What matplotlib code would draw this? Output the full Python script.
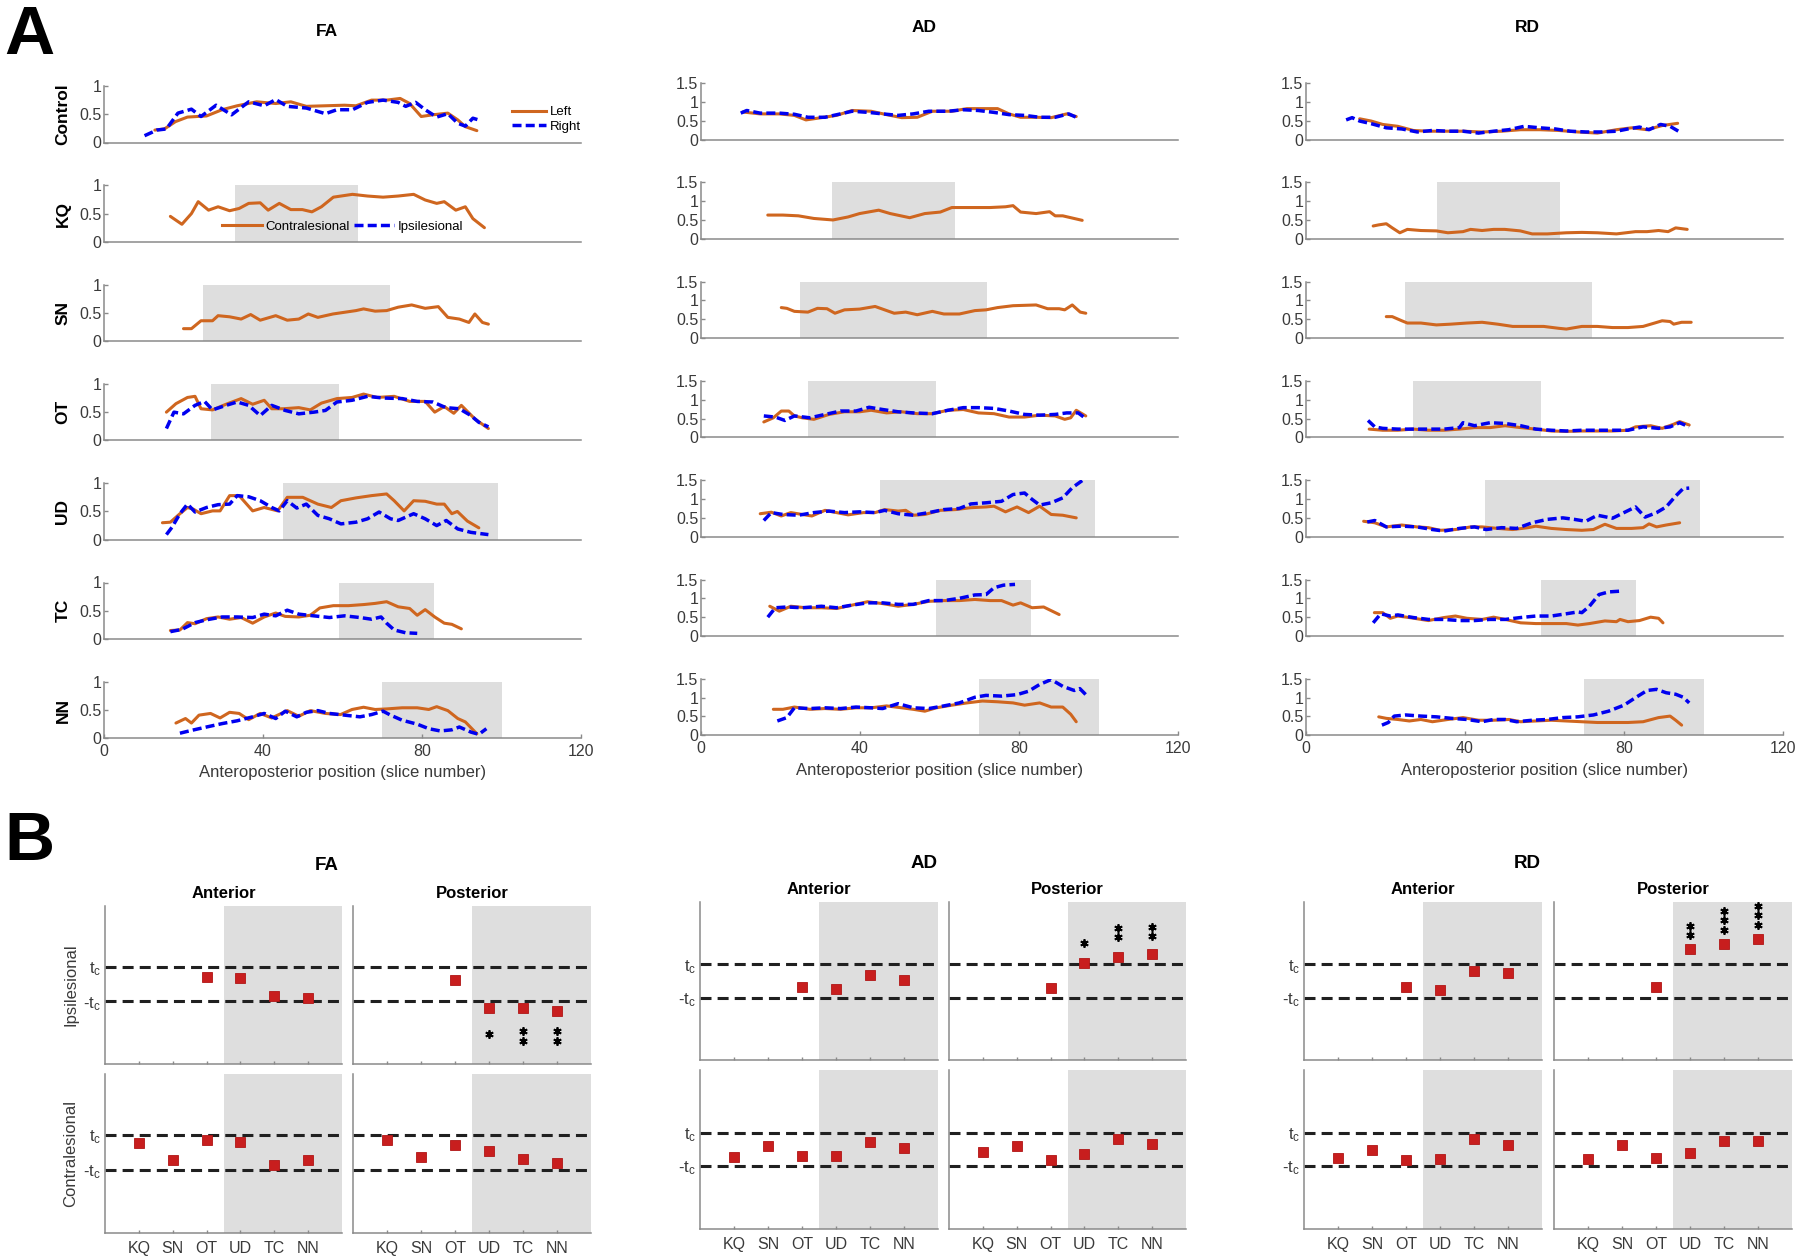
import numpy as np
import matplotlib
matplotlib.use('Agg')
import matplotlib.pyplot as plt
from matplotlib.lines import Line2D

plt.rcParams['font.family'] = ['Liberation Sans', 'DejaVu Sans']
plt.rcParams['mathtext.default'] = 'regular'

# ---------------- DATA: panel A profiles (slice, value) ----------------
ROWS = ['Control', 'KQ', 'SN', 'OT', 'UD', 'TC', 'NN']
METRICS = ['FA', 'AD', 'RD']
SHADE_START = [None, 33, 25, 27, 45, 59, 70]
SHADE_END = [None, 64, 72, 59, 99, 83, 100]

FA_CONTROL_LEFT = [(12.8,0.22),(15.2,0.24),(18,0.37),(21,0.45),(25.8,0.47),(29.7,0.58),(33.5,0.65),(38.4,0.72),(43.2,0.69),(47,0.72),(50.9,0.64),(55.7,0.65),(60.5,0.66),(63.4,0.65),(67.3,0.75),(71.1,0.75),(74.5,0.78),(76.9,0.69),(79.8,0.46),(82.7,0.49),(86.5,0.52),(89,0.4),(90.9,0.28),(93.8,0.21)]
FA_CONTROL_RIGHT = [(10.2,0.12),(13.3,0.22),(15.7,0.24),(18.6,0.52),(22,0.59),(24.4,0.46),(28.2,0.66),(32.1,0.49),(36.4,0.72),(40.3,0.65),(43.2,0.76),(46.1,0.64),(50.9,0.61),(55.7,0.51),(58.6,0.58),(62.5,0.58),(66.3,0.71),(70.2,0.75),(74,0.71),(75.9,0.64),(78.4,0.71),(80.8,0.58),(83.7,0.45),(86.5,0.51),(89,0.34),(90.9,0.29),(92.8,0.43),(94.7,0.39)]
FA_KQ_CONTRA = [(16.7,0.45),(19.6,0.31),(22,0.5),(23.7,0.71),(26.3,0.56),(28.7,0.62),(31.6,0.55),(34,0.59),(36.4,0.68),(39.3,0.69),(41.3,0.56),(44.1,0.68),(47,0.57),(49.9,0.57),(52.3,0.53),(54.7,0.62),(57.7,0.79),(62.5,0.84),(66.3,0.81),(70.2,0.79),(74,0.81),(77.9,0.84),(80.8,0.74),(83.7,0.68),(85.6,0.71),(88.5,0.56),(90.9,0.62),(92.8,0.41),(95.7,0.25)]
FA_SN_CONTRA = [(20,0.22),(22,0.22),(24.4,0.36),(27.3,0.36),(28.7,0.45),(31.6,0.43),(34.5,0.39),(36.9,0.47),(39.3,0.37),(43.2,0.45),(46.1,0.37),(49,0.39),(51.4,0.48),(53.8,0.42),(57.6,0.48),(60.5,0.51),(63.4,0.54),(65.3,0.57),(68.2,0.53),(71.1,0.54),(74,0.6),(77.4,0.64),(80.8,0.58),(84.1,0.61),(86.5,0.42),(89.4,0.39),(91.8,0.33),(93.3,0.48),(95.2,0.33),(96.7,0.3)]
FA_OT_CONTRA = [(15.7,0.5),(18.1,0.65),(21,0.76),(22.9,0.78),(24.4,0.56),(27.3,0.54),(30.7,0.64),(34.5,0.74),(37.4,0.64),(40.3,0.71),(42.2,0.56),(45.1,0.56),(49,0.58),(51.9,0.54),(54.7,0.66),(58.6,0.74),(62.4,0.76),(65.3,0.82),(68.7,0.76),(73,0.78),(76.9,0.69),(80.8,0.69),(83.2,0.5),(85.6,0.6),(88,0.48),(89.9,0.62),(93.3,0.38),(96.7,0.21)]
FA_OT_IPSI = [(15.7,0.21),(17.6,0.5),(20,0.47),(22.9,0.62),(25.3,0.69),(27.3,0.54),(30.7,0.62),(33.5,0.68),(36.4,0.62),(39.3,0.44),(42.2,0.62),(45.6,0.53),(49,0.47),(52.8,0.5),(55.7,0.53),(58.6,0.68),(62.4,0.71),(66.3,0.78),(70.2,0.75),(75,0.74),(78.8,0.69),(82.7,0.68),(86,0.58),(89.4,0.56),(92.3,0.44),(94.3,0.32),(96.7,0.24)]
FA_UD_CONTRA = [(14.7,0.3),(16.7,0.31),(19.1,0.46),(21,0.57),(22.5,0.54),(24.4,0.46),(27.3,0.51),(29.2,0.51),(31.6,0.78),(34,0.78),(37.4,0.51),(40.3,0.57),(43.7,0.51),(46.1,0.75),(50,0.75),(53.8,0.63),(57.2,0.57),(59.6,0.69),(63.4,0.74),(67.3,0.78),(71.1,0.81),(73,0.69),(75.5,0.51),(77.9,0.69),(80.8,0.68),(83.7,0.63),(85.6,0.63),(87.5,0.46),(88.9,0.5),(91.4,0.33),(94.3,0.21)]
FA_UD_IPSI = [(15.7,0.09),(17.1,0.22),(19.1,0.46),(21,0.63),(22.9,0.49),(25.8,0.57),(28.7,0.62),(31.6,0.63),(33.5,0.78),(36.4,0.76),(39.3,0.69),(42.2,0.57),(44.1,0.51),(46.1,0.69),(48.5,0.56),(50.9,0.63),(53.8,0.43),(56.7,0.37),(59.6,0.28),(63.4,0.31),(66.3,0.37),(69.2,0.49),(72.1,0.37),(74,0.34),(77.9,0.46),(80.8,0.37),(83.7,0.25),(86.1,0.34),(89,0.19),(92.3,0.13),(96.7,0.09)]
FA_TC_CONTRA = [(16.7,0.15),(19.1,0.16),(21,0.29),(22.9,0.27),(25.8,0.36),(28.7,0.39),(31.6,0.35),(34.5,0.38),(37.4,0.28),(40.3,0.39),(43.2,0.46),(45.6,0.4),(49,0.39),(51.9,0.42),(54.3,0.55),(57.7,0.59),(61.5,0.59),(65.4,0.61),(68.2,0.63),(71.1,0.66),(74,0.57),(76.9,0.54),(78.8,0.42),(80.8,0.52),(83.2,0.39),(85.6,0.28),(87.5,0.26),(89.9,0.18)]
FA_TC_IPSI = [(16.7,0.13),(19.6,0.17),(22.9,0.29),(25.8,0.34),(29.7,0.39),(33.5,0.39),(37.4,0.38),(40.3,0.44),(43.2,0.41),(46.1,0.51),(49,0.44),(52.8,0.41),(56.7,0.38),(60.5,0.41),(64.4,0.38),(67.3,0.35),(69.7,0.39),(71.1,0.28),(73,0.16),(75.9,0.11),(78.8,0.1)]
FA_NN_CONTRA = [(18.1,0.27),(20.5,0.35),(22,0.27),(23.9,0.41),(26.8,0.44),(29.2,0.36),(31.6,0.46),(34,0.44),(36.4,0.33),(39.3,0.44),(42.2,0.36),(46.1,0.49),(49,0.39),(51.9,0.49),(55.7,0.44),(59.5,0.42),(62.4,0.51),(65.3,0.55),(68.2,0.51),(71.1,0.52),(75,0.54),(78.8,0.54),(81.7,0.51),(83.7,0.56),(86.5,0.49),(89,0.35),(90.9,0.29),(93.8,0.08)]
FA_NN_IPSI = [(19.1,0.09),(22,0.14),(25.8,0.2),(29.7,0.26),(33.5,0.31),(37.4,0.38),(40.3,0.44),(43.2,0.35),(45.6,0.48),(48.5,0.38),(50.9,0.46),(53.8,0.49),(56.7,0.44),(60.5,0.41),(64.4,0.38),(67.3,0.42),(70.2,0.48),(72.1,0.41),(75,0.32),(78.8,0.25),(81.7,0.17),(84.6,0.13),(87.5,0.15),(89.4,0.2),(92.3,0.11),(94.3,0.07),(96.2,0.17)]

AD_CONTROL_LEFT = [(10.5,0.73),(14.9,0.68),(19.7,0.68),(23.5,0.64),(26.4,0.52),(30.3,0.58),(34.1,0.64),(38,0.77),(42.8,0.75),(46.7,0.66),(50.5,0.58),(54.4,0.59),(58.2,0.75),(63.1,0.75),(66.9,0.82),(70.8,0.82),(74.6,0.82),(77.5,0.68),(80.4,0.59),(84.3,0.59),(88.1,0.58),(92,0.68),(94.4,0.61)]
AD_CONTROL_RIGHT = [(10,0.7),(11.5,0.77),(14.9,0.7),(19.7,0.7),(23.5,0.67),(26.9,0.59),(31.2,0.59),(35.1,0.68),(38,0.75),(42.1,0.72),(45.7,0.68),(49.6,0.64),(53.4,0.68),(57.3,0.75),(62.1,0.75),(66,0.79),(69.8,0.77),(73.7,0.72),(77.5,0.66),(81.4,0.64),(85.2,0.59),(89.1,0.59),(92.5,0.68),(94.4,0.59)]
AD_KQ_CONTRA = [(16.8,0.63),(20.6,0.63),(24.5,0.61),(28.4,0.54),(33.2,0.5),(37,0.58),(39.9,0.67),(44.7,0.76),(47.6,0.67),(52.5,0.56),(56.3,0.67),(60.2,0.71),(63.1,0.83),(67.9,0.83),(72.7,0.83),(76.6,0.85),(78.5,0.88),(80.4,0.71),(84.3,0.67),(87.7,0.72),(89.1,0.61),(91,0.61),(95.9,0.49)]
AD_SN_CONTRA = [(20.2,0.81),(21.6,0.79),(23.5,0.71),(26.9,0.69),(29.3,0.79),(31.7,0.78),(33.7,0.66),(36.1,0.75),(39.9,0.77),(43.8,0.84),(48.6,0.66),(51.5,0.69),(54.4,0.62),(58.2,0.71),(61.1,0.64),(65,0.64),(68.9,0.73),(71.7,0.75),(74.6,0.81),(78.5,0.86),(84.3,0.88),(87.2,0.78),(90.1,0.78),(91.5,0.75),(93.4,0.88),(95.4,0.69),(96.8,0.66)]
AD_OT_CONTRA = [(15.8,0.41),(18.2,0.52),(20.2,0.7),(22.1,0.7),(23.5,0.57),(25.5,0.52),(28.4,0.48),(32.2,0.61),(36.1,0.68),(39.9,0.68),(42.8,0.72),(46.7,0.65),(50.5,0.68),(54.4,0.63),(58.2,0.63),(62.1,0.72),(66,0.74),(69.8,0.65),(73.7,0.63),(77.5,0.54),(81.4,0.54),(85.2,0.59),(89.1,0.57),(91.5,0.48),(93,0.52),(94.4,0.72),(96.8,0.57)]
AD_OT_IPSI = [(15.8,0.57),(18.7,0.54),(21.1,0.45),(23.5,0.57),(27.4,0.52),(31.2,0.61),(35.1,0.7),(39,0.7),(42.3,0.8),(45.7,0.74),(49.6,0.68),(53.4,0.65),(58.2,0.63),(62.1,0.72),(66,0.79),(69.8,0.79),(73.7,0.77),(77.5,0.7),(81.4,0.61),(85.2,0.59),(89.1,0.61),(92,0.65),(94.9,0.65),(96.8,0.5)]
AD_UD_CONTRA = [(14.9,0.61),(17.7,0.65),(20.2,0.55),(22.6,0.64),(25.5,0.59),(27.9,0.55),(31.2,0.7),(34.1,0.64),(37,0.58),(40.9,0.64),(43.8,0.64),(46.2,0.72),(49.6,0.68),(51.5,0.7),(53.4,0.57),(56.3,0.59),(60.2,0.7),(64,0.72),(67.9,0.77),(71.7,0.79),(73.7,0.81),(76.6,0.66),(79.5,0.79),(82.4,0.64),(85.2,0.81),(88.1,0.59),(91,0.57),(94.4,0.5)]
AD_UD_IPSI = [(15.8,0.43),(17.7,0.64),(20.6,0.59),(24.5,0.57),(28.4,0.64),(32.2,0.68),(36.1,0.64),(39.9,0.66),(43.8,0.64),(46.2,0.7),(49.6,0.61),(53.4,0.57),(57.3,0.64),(61.1,0.72),(65,0.75),(67.9,0.87),(71.7,0.9),(75.6,0.94),(78.5,1.12),(81.4,1.16),(83.3,0.99),(85.2,0.84),(88.1,0.9),(91,1.03),(93.4,1.3),(95.9,1.49)]
AD_TC_CONTRA = [(17.3,0.79),(19.7,0.66),(22.6,0.79),(26.4,0.75),(30.3,0.75),(34.1,0.73),(38,0.82),(41.9,0.91),(45.7,0.86),(49.6,0.79),(53.4,0.84),(57.3,0.92),(61.1,0.94),(65,0.94),(68.9,0.97),(72.7,0.94),(75.6,0.94),(78.5,0.82),(80.4,0.88),(83.3,0.75),(86.2,0.77),(90.1,0.57)]
AD_TC_IPSI = [(16.8,0.5),(18.7,0.75),(21.6,0.77),(25.5,0.75),(30.3,0.79),(34.1,0.75),(38,0.82),(41.9,0.88),(45.7,0.88),(49.6,0.84),(53.4,0.84),(57.3,0.94),(61.1,0.94),(65,1.0),(68.9,1.09),(71.7,1.1),(73.7,1.28),(76.1,1.35),(79,1.37)]
AD_NN_CONTRA = [(18.2,0.69),(20.6,0.69),(23.5,0.75),(27.4,0.69),(31.2,0.71),(35.1,0.69),(39,0.73),(42.8,0.73),(46.7,0.78),(50.5,0.73),(53.4,0.69),(56.3,0.64),(59.2,0.73),(63.1,0.8),(66.9,0.86),(70.8,0.91),(74.6,0.89),(78.5,0.86),(81.4,0.8),(85.2,0.86),(88.1,0.75),(91,0.75),(93,0.56),(94.4,0.36)]
AD_NN_IPSI = [(19.2,0.38),(21.6,0.47),(23.5,0.73),(27.4,0.71),(31.2,0.73),(35.1,0.71),(39,0.75),(42.8,0.73),(45.7,0.71),(49.6,0.84),(53.4,0.73),(57.3,0.71),(61.1,0.78),(65,0.86),(68.9,1.01),(71.7,1.06),(75.6,1.04),(79.5,1.08),(82.4,1.17),(85.2,1.35),(88.1,1.48),(91,1.3),(93.9,1.19),(95.3,1.24),(96.8,1.08)]

RD_CONTROL_LEFT = [(13.5,0.55),(16.4,0.49),(19.3,0.4),(23.1,0.35),(27,0.24),(30.7,0.22),(34.7,0.22),(39.5,0.22),(44.3,0.2),(49.2,0.22),(54,0.26),(58.8,0.26),(63.6,0.24),(68.4,0.2),(73.3,0.17),(78.1,0.26),(81.9,0.31),(85.8,0.26),(89.6,0.37),(93.5,0.43)]
RD_CONTROL_RIGHT = [(10.1,0.52),(11.6,0.58),(13.5,0.49),(16.4,0.42),(20.2,0.31),(24.1,0.28),(28,0.2),(31.8,0.24),(35.7,0.22),(39.5,0.22),(43.4,0.17),(47.2,0.22),(51,0.26),(54.9,0.35),(58.8,0.31),(62.7,0.28),(66.5,0.22),(70.4,0.2),(74.2,0.2),(78.1,0.22),(81,0.28),(83.9,0.33),(86.3,0.26),(89.2,0.4),(91.6,0.35),(94.5,0.17)]
RD_KQ_CONTRA = [(16.9,0.34),(18.3,0.37),(20.2,0.4),(21.7,0.29),(23.6,0.16),(25.5,0.25),(28.9,0.22),(32.8,0.21),(35.7,0.16),(39.5,0.19),(41.4,0.25),(44.3,0.22),(47.2,0.25),(50,0.25),(53.9,0.21),(56.9,0.13),(60.7,0.13),(65.5,0.16),(69.4,0.17),(73.3,0.16),(78.1,0.13),(82.9,0.19),(85.8,0.19),(88.7,0.22),(91.1,0.19),(93,0.29),(95.9,0.25)]
RD_SN_CONTRA = [(20.2,0.57),(21.7,0.57),(24.1,0.46),(25.5,0.4),(28.9,0.4),(32.8,0.35),(36.4,0.37),(40.5,0.4),(44.3,0.42),(48.2,0.37),(52,0.31),(55.9,0.31),(59.8,0.31),(63.6,0.26),(65.5,0.24),(69.4,0.31),(73.3,0.31),(77.1,0.28),(81,0.28),(84.8,0.31),(87.7,0.4),(89.6,0.46),(91.6,0.44),(92.5,0.37),(94.5,0.42),(96.9,0.42)]
RD_OT_CONTRA = [(15.9,0.22),(19.3,0.19),(23.1,0.19),(27,0.22),(30.8,0.19),(34.7,0.19),(38.6,0.22),(42.4,0.26),(46.3,0.26),(50.1,0.31),(54,0.26),(57.8,0.22),(61.7,0.17),(65.5,0.16),(69.4,0.17),(73.3,0.17),(77.1,0.17),(81,0.19),(82.9,0.28),(86.7,0.31),(89.6,0.24),(92.5,0.35),(94,0.42),(96.4,0.33)]
RD_OT_IPSI = [(15.6,0.45),(17.3,0.28),(19.3,0.24),(23.1,0.22),(27,0.22),(30.8,0.22),(34.7,0.22),(38.6,0.26),(39.5,0.39),(42.4,0.31),(46.3,0.39),(50.1,0.37),(54,0.31),(57.8,0.22),(61.7,0.19),(65.5,0.17),(69.4,0.19),(73.3,0.19),(77.1,0.19),(81,0.19),(84.8,0.28),(88.7,0.24),(91.6,0.28),(94,0.39),(96.4,0.28)]
RD_UD_CONTRA = [(14.5,0.41),(17.3,0.37),(20.2,0.26),(24.1,0.31),(27.9,0.26),(30.8,0.24),(33.7,0.17),(37.6,0.19),(41.4,0.26),(44.3,0.26),(48.2,0.22),(52,0.19),(55.9,0.24),(57.8,0.28),(61.7,0.22),(65.5,0.19),(69.4,0.17),(72.3,0.19),(75.2,0.33),(78.1,0.22),(81.9,0.22),(84.8,0.24),(86.3,0.34),(88.2,0.26),(90.6,0.31),(94,0.37)]
RD_UD_IPSI = [(15.4,0.39),(17.3,0.43),(20.2,0.26),(24.1,0.28),(27.9,0.26),(31.8,0.19),(34.7,0.15),(38.6,0.22),(42.4,0.26),(45.3,0.19),(49.2,0.24),(53,0.22),(56.9,0.37),(60.7,0.46),(64.6,0.5),(67.5,0.46),(70.4,0.41),(73.3,0.57),(77.1,0.49),(80,0.64),(82.9,0.79),(85.3,0.52),(88.2,0.64),(90.6,0.79),(93,1.08),(94.9,1.28),(96.4,1.29)]
RD_TC_CONTRA = [(17.2,0.62),(19.3,0.62),(21.2,0.47),(23.1,0.53),(26,0.49),(30.8,0.41),(34.7,0.49),(37.6,0.53),(40.5,0.47),(44.3,0.44),(47.2,0.5),(50.1,0.44),(54,0.35),(57.8,0.33),(61.7,0.33),(65.5,0.33),(68.4,0.29),(71.3,0.33),(75.2,0.4),(78.1,0.38),(79,0.44),(81,0.38),(83.9,0.41),(86.7,0.5),(88.7,0.47),(89.8,0.35)]
RD_TC_IPSI = [(16.9,0.35),(18.8,0.59),(21.2,0.53),(23.1,0.56),(27,0.49),(30.8,0.44),(34.7,0.44),(38.6,0.41),(42.4,0.41),(46.3,0.44),(50.1,0.44),(54,0.49),(57.8,0.53),(61.7,0.53),(65.5,0.59),(68.4,0.64),(69.4,0.62),(71.3,0.79),(73.7,1.1),(76.1,1.17),(79,1.19)]
RD_NN_CONTRA = [(18.3,0.49),(20.2,0.45),(23.1,0.42),(26,0.38),(28.9,0.42),(31.8,0.36),(35.7,0.42),(39.5,0.47),(43.4,0.4),(47.2,0.4),(51.1,0.42),(54,0.36),(57.8,0.38),(61.7,0.4),(65.5,0.38),(69.4,0.36),(73.3,0.34),(77.1,0.34),(81,0.34),(84.8,0.36),(88.7,0.47),(91.6,0.51),(93,0.4),(94.5,0.27)]
RD_NN_IPSI = [(19.1,0.27),(20.7,0.34),(22.2,0.51),(25.1,0.54),(28.9,0.51),(32.8,0.49),(36.6,0.45),(40.5,0.42),(44.3,0.36),(47.2,0.42),(50.1,0.42),(53,0.36),(56.9,0.4),(60.7,0.42),(64.6,0.47),(68.4,0.49),(72.3,0.54),(76.1,0.64),(80,0.8),(82.9,1.0),(85.8,1.19),(88.2,1.22),(90.6,1.13),(93,1.09),(94.9,1.01),(96.4,0.86)]

# ---------------- DATA: panel B (t / t_c) ----------------
GROUPS = ['KQ', 'SN', 'OT', 'UD', 'TC', 'NN']
nan = np.nan
FA_IPSI_ANT = [nan, nan, 0.40, 0.37, -0.71, -0.81]
FA_IPSI_POST = [nan, nan, 0.25, -1.38, -1.40, -1.54]
FA_CONTRA_ANT = [0.53, -0.41, 0.71, 0.61, -0.71, -0.41]
FA_CONTRA_POST = [0.73, -0.25, 0.43, 0.12, -0.37, -0.57]
AD_IPSI_ANT = [nan, nan, -0.36, -0.46, 0.38, 0.04]
AD_IPSI_POST = [nan, nan, -0.42, 1.08, 1.44, 1.60]
AD_CONTRA_ANT = [-0.46, 0.20, -0.36, -0.36, 0.42, 0.09]
AD_CONTRA_POST = [-0.13, 0.22, -0.61, -0.26, 0.65, 0.30]
RD_IPSI_ANT = [nan, nan, -0.36, -0.52, 0.60, 0.48]
RD_IPSI_POST = [nan, nan, -0.36, 1.92, 2.20, 2.54]
RD_CONTRA_ANT = [-0.51, -0.03, -0.61, -0.55, 0.65, 0.26]
RD_CONTRA_POST = [-0.57, 0.26, -0.48, -0.22, 0.50, 0.50]
# significance stars (ipsilesional, posterior): count and centre height
FA_STARS = [0, 0, 0, 1, 2, 2]
FA_STAR_Y = [nan, nan, nan, -2.88, -3.0, -3.0]
AD_STARS = [0, 0, 0, 1, 2, 2]
AD_STAR_Y = [nan, nan, nan, 2.28, 2.94, 3.0]
RD_STARS = [0, 0, 0, 2, 3, 3]
RD_STAR_Y = [nan, nan, nan, 3.04, 3.64, 3.94]

# ---------------- lookup tables ----------------
A_CURVES = {
    'FA': [(FA_CONTROL_LEFT, FA_CONTROL_RIGHT), (FA_KQ_CONTRA, None), (FA_SN_CONTRA, None),
           (FA_OT_CONTRA, FA_OT_IPSI), (FA_UD_CONTRA, FA_UD_IPSI), (FA_TC_CONTRA, FA_TC_IPSI),
           (FA_NN_CONTRA, FA_NN_IPSI)],
    'AD': [(AD_CONTROL_LEFT, AD_CONTROL_RIGHT), (AD_KQ_CONTRA, None), (AD_SN_CONTRA, None),
           (AD_OT_CONTRA, AD_OT_IPSI), (AD_UD_CONTRA, AD_UD_IPSI), (AD_TC_CONTRA, AD_TC_IPSI),
           (AD_NN_CONTRA, AD_NN_IPSI)],
    'RD': [(RD_CONTROL_LEFT, RD_CONTROL_RIGHT), (RD_KQ_CONTRA, None), (RD_SN_CONTRA, None),
           (RD_OT_CONTRA, RD_OT_IPSI), (RD_UD_CONTRA, RD_UD_IPSI), (RD_TC_CONTRA, RD_TC_IPSI),
           (RD_NN_CONTRA, RD_NN_IPSI)],
}
B_VALUES = {
    'FA': [[FA_IPSI_ANT, FA_IPSI_POST], [FA_CONTRA_ANT, FA_CONTRA_POST]],
    'AD': [[AD_IPSI_ANT, AD_IPSI_POST], [AD_CONTRA_ANT, AD_CONTRA_POST]],
    'RD': [[RD_IPSI_ANT, RD_IPSI_POST], [RD_CONTRA_ANT, RD_CONTRA_POST]],
}
B_STARS = {'FA': (FA_STARS, FA_STAR_Y), 'AD': (AD_STARS, AD_STAR_Y), 'RD': (RD_STARS, RD_STAR_Y)}

# ---------------- styling ----------------
ORANGE = '#CF661F'
BLUE = '#0000F0'
SHADE = '#DEDEDE'
SPINE = '#8a8a8a'
TXT = '#3a3a3a'
W, H = 1800, 1257

fig = plt.figure(figsize=(18, 12.57), dpi=100)


def add_axes_px(x0, y0, x1, y1):
    return fig.add_axes([x0 / W, 1 - y1 / H, (x1 - x0) / W, (y1 - y0) / H])


def ftext(x, y, s, **kw):
    fig.text(x / W, 1 - y / H, s, **kw)


def style(ax):
    for s in ['top', 'right']:
        ax.spines[s].set_visible(False)
    for s in ['left', 'bottom']:
        ax.spines[s].set_color(SPINE)
        ax.spines[s].set_linewidth(1.1)
    ax.tick_params(direction='in', colors=SPINE, labelcolor=TXT, labelsize=11.5, length=3, width=1)


# ---------------- Panel A ----------------
COL_LEFT = {'FA': 104, 'AD': 701, 'RD': 1306}
COL_W = 477
ROW_TOP0 = {'FA': 86, 'AD': 83, 'RD': 83}
ROW_STEP = 99.3
ROW_H = 56.5
YMAX = {'FA': 1.0, 'AD': 1.5, 'RD': 1.5}
YTICKS = {'FA': ([0, 0.5, 1], ['0', '0.5', '1']),
          'AD': ([0, 0.5, 1, 1.5], ['0', '0.5', '1', '1.5']),
          'RD': ([0, 0.5, 1, 1.5], ['0', '0.5', '1', '1.5'])}
DASH = (0, (2.6, 1.2))

for m in METRICS:
    x0 = COL_LEFT[m]
    for i, row in enumerate(ROWS):
        top = ROW_TOP0[m] + ROW_STEP * i
        ax = add_axes_px(x0, top, x0 + COL_W, top + ROW_H)
        style(ax)
        ax.set_xlim(0, 120)
        ax.set_ylim(0, YMAX[m])
        if SHADE_START[i] is not None:
            ax.axvspan(SHADE_START[i], SHADE_END[i], color=SHADE, lw=0, zorder=0)
        c_or, c_bl = A_CURVES[m][i]
        a = np.array(c_or)
        ax.plot(a[:, 0], a[:, 1], color=ORANGE, lw=2.2, solid_joinstyle='round',
                solid_capstyle='round', zorder=3)
        if c_bl is not None:
            b = np.array(c_bl)
            ax.plot(b[:, 0], b[:, 1], color=BLUE, lw=2.5, ls=DASH, zorder=4)
        yt, yl = YTICKS[m]
        ax.set_yticks(yt)
        ax.set_yticklabels(yl)
        ax.tick_params(axis='y', pad=2)
        if i == len(ROWS) - 1:
            ax.set_xticks([0, 40, 80, 120])
            ax.set_xticklabels(['0', '40', '80', '120'])
            ax.tick_params(axis='x', pad=4)
        else:
            ax.set_xticks([])
        if m == 'FA':
            ftext(63, top + ROW_H / 2, row, rotation=90, ha='center', va='center',
                  fontsize=12.5, fontweight='bold', color='black')
            if i == 0:
                h = [Line2D([], [], color=ORANGE, lw=2.2), Line2D([], [], color=BLUE, lw=2.5, ls=DASH)]
                ax.legend(h, ['Left', 'Right'], loc='center right', bbox_to_anchor=(1.0, 0.41),
                          frameon=False, fontsize=9.5, handlelength=2.6, handletextpad=0.3,
                          labelspacing=0.15, borderaxespad=0, borderpad=0)
            if i == 1:
                h = [Line2D([], [], color=ORANGE, lw=2.2), Line2D([], [], color=BLUE, lw=2.5, ls=DASH)]
                ax.legend(h, ['Contralesional', 'Ipsilesional'], loc='center',
                          bbox_to_anchor=(0.5, 0.27), ncol=2, frameon=False, fontsize=9.5,
                          handlelength=3.0, handletextpad=0.3, columnspacing=0.3,
                          borderaxespad=0, borderpad=0)
    xc = x0 + COL_W / 2
    ftext(xc, 773 if m == 'FA' else 770, 'Anteroposterior position (slice number)', ha='center',
          va='center', fontsize=12, color=TXT)

ftext(327, 32, 'FA', ha='center', va='center', fontsize=12.5, fontweight='bold')
ftext(924, 28, 'AD', ha='center', va='center', fontsize=12.5, fontweight='bold')
ftext(1527, 28, 'RD', ha='center', va='center', fontsize=12.5, fontweight='bold')

ftext(4, 54, 'A', ha='left', va='baseline', fontsize=50, fontweight='bold')
ftext(4, 860, 'B', ha='left', va='baseline', fontsize=50, fontweight='bold')

# ---------------- Panel B ----------------
B_X = {'FA': [(105, 342), (353, 591)], 'AD': [(700, 938), (949, 1186)], 'RD': [(1304, 1542), (1554, 1792)]}
B_Y = {'FA': [(906, 1064), (1074, 1233)], 'AD': [(902, 1060), (1070, 1229)], 'RD': [(902, 1060), (1070, 1229)]}
B_YLIM = {'FA': (-4.62, 4.52), 'AD': (-4.75, 4.75), 'RD': (-4.75, 4.75)}
B_TITLE = {'FA': (327, 866), 'AD': (924, 863), 'RD': (1527, 863)}
SUB_Y = {'FA': 893, 'AD': 890, 'RD': 890}
SQUARE = '#C81E1E'
TC_DASH = (0, (3.6, 2.0))
xs = np.arange(1, len(GROUPS) + 1)

for m in METRICS:
    ftext(B_TITLE[m][0], B_TITLE[m][1], m, ha='center', va='center', fontsize=13.5, fontweight='bold')
    for j, sub in enumerate(['Anterior', 'Posterior']):
        xa, xb = B_X[m][j]
        ftext((xa + xb) / 2, SUB_Y[m], sub, ha='center', va='center', fontsize=12, fontweight='bold')
        for r in range(2):
            ya, yb = B_Y[m][r]
            ax = add_axes_px(xa, ya, xb, yb)
            style(ax)
            ax.set_xlim(0, 7)
            ax.set_ylim(*B_YLIM[m])
            ax.axvspan(3.5, 7, color=SHADE, lw=0, zorder=0)
            ax.axhline(1, color='#202020', lw=2.2, ls=TC_DASH, zorder=2)
            ax.axhline(-1, color='#202020', lw=2.2, ls=TC_DASH, zorder=2)
            vals = B_VALUES[m][r][j]
            ax.plot(xs, vals, 's', color=SQUARE, ms=6.8, mec='#B01515', mew=0.6, zorder=4)
            if r == 0 and j == 1:
                cnt, cy = B_STARS[m]
                for k in range(len(GROUPS)):
                    if cnt[k] > 0:
                        offs = (np.arange(cnt[k]) - (cnt[k] - 1) / 2) * 0.55
                        ax.plot(np.full(cnt[k], xs[k]), cy[k] + offs, ls='none',
                                marker=(6, 2, 0), color='black', ms=6, mew=1.3, zorder=5,
                                clip_on=False)
            ax.set_xticks(xs)
            if r == 1:
                ax.set_xticklabels(GROUPS)
                ax.tick_params(axis='x', pad=6)
            else:
                ax.set_xticklabels([])
            ax.tick_params(axis='x', length=2.5)
            if j == 0:
                ax.set_yticks([-1, 1])
                ax.set_yticklabels(['-$t_c$', '$t_c$'])
                ax.tick_params(axis='y', length=0, pad=3, labelsize=12)
            else:
                ax.set_yticks([])
            if m == 'FA' and j == 0:
                ftext(71, (ya + yb) / 2, 'Ipsilesional' if r == 0 else 'Contralesional', rotation=90,
                      ha='center', va='center', fontsize=12, color=TXT)

fig.savefig('out.png', dpi=100)
